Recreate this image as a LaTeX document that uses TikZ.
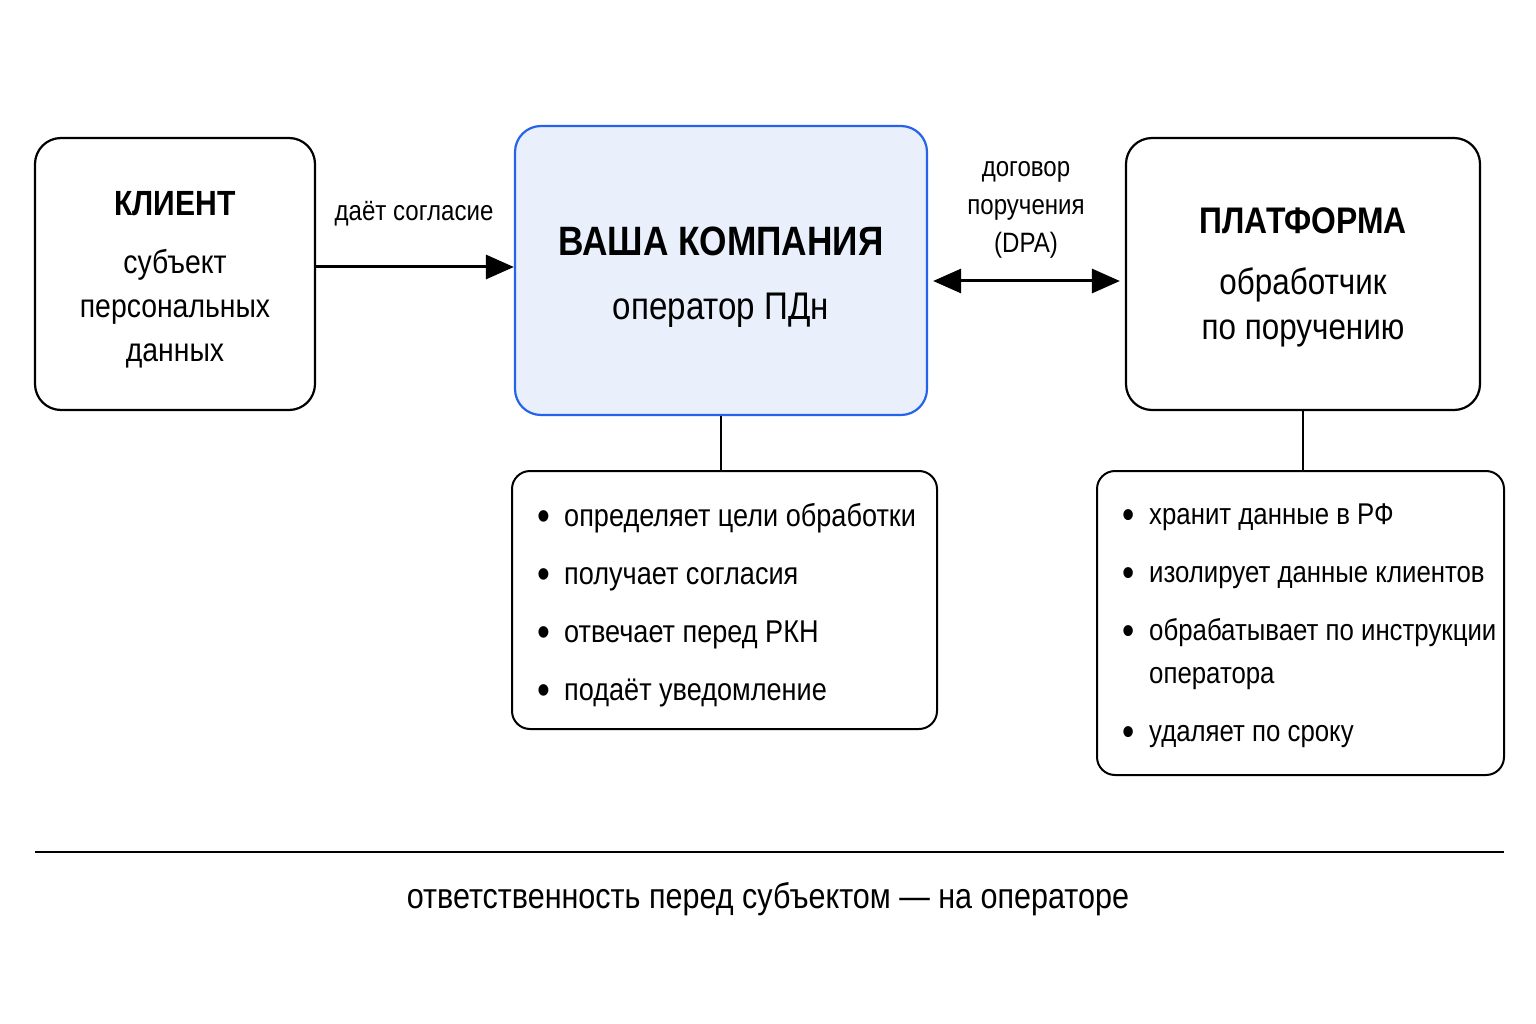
\documentclass[tikz,border=0pt]{standalone}
\usepackage{fontspec}
\setmainfont{Liberation Sans}[FakeStretch=0.86]
\usetikzlibrary{positioning,arrows.meta}

\definecolor{opfill}{HTML}{E9F0FC}
\definecolor{opline}{HTML}{2563EB}

\tikzset{
  box/.style={draw, line width=2.2pt, rounded corners=26pt, inner sep=0pt},
  boxtext/.style={align=center, inner sep=0pt},
  notes/.style={draw, line width=2pt, rounded corners=18pt, inner sep=0pt},
  notetext/.style={align=left, inner sep=0pt, anchor=north west,
    font=\fontsize{31.5}{43}\selectfont},
  arr/.style={line width=3pt, -{Triangle[length=28pt,width=24pt]}},
  darr/.style={line width=3pt, {Triangle[length=28pt,width=24pt]}-{Triangle[length=28pt,width=24pt]}},
  lbl/.style={align=center, inner sep=0pt, font=\fontsize{28}{38}\selectfont},
}
\newcommand{\itm}{\makebox[27pt][l]{\raisebox{-0.12em}{\scalebox{1.35}{\textbullet}}}}
\newcommand{\ttl}[2]{{\fontsize{#1}{44}\selectfont\bfseries #2}}

\begin{document}
\begin{tikzpicture}[x=1pt,y=-1pt]
  \useasboundingbox (0,0) rectangle (1536,1024);
  % three parties
  \node[box, minimum width=280pt, minimum height=272pt] (client) at (175,274) {};
  \node[boxtext, font=\fontsize{33}{44}\selectfont] (clienttxt) at ([yshift=-6pt]client.center)
    {\ttl{35}{КЛИЕНТ}\\[14pt]субъект\\персональных\\данных};
  \node[box, fill=opfill, draw=opline, minimum width=412pt, minimum height=289pt] (op) at (721,270.5) {};
  \node[boxtext, font=\fontsize{38.5}{46}\selectfont] (optxt) at ([yshift=-7pt]op.center)
    {\ttl{41}{ВАША КОМПАНИЯ}\\[18pt]оператор ПДн};
  \node[box, minimum width=354pt, minimum height=272pt] (plat) at (1303,274) {};
  \node[boxtext, font=\fontsize{36.5}{45}\selectfont] (plattxt) at ([yshift=-3pt]plat.center)
    {\ttl{37}{ПЛАТФОРМА}\\[16pt]обработчик\\по поручению};

  % arrows between them
  \draw[arr] (client.east |- 0,267) -- (op.west |- 0,267);
  \node[lbl] (consent) at (414,214) {даёт согласие};
  \draw[darr, shorten <=5pt, shorten >=5pt] (op.east |- 0,281) -- (plat.west |- 0,281);
  \node[lbl] (dpa) at (1026,210) {договор\\поручения\\(DPA)};

  % duties
  \node[notes, minimum width=425pt, minimum height=258pt] (opnotes) at (724.5,600) {};
  \node[notetext] (oplist) at ([xshift=26pt,yshift=-33pt]opnotes.north west)
    {\itm определяет цели обработки\\[15pt]
     \itm получает согласия\\[15pt]
     \itm отвечает перед РКН\\[15pt]
     \itm подаёт уведомление};
  \node[notes, minimum width=407pt, minimum height=304pt] (platnotes) at (1300.5,623) {};
  \node[notetext, font=\fontsize{30}{43}\selectfont] (platlist)
      at ([xshift=26pt,yshift=-34pt]platnotes.north west)
    {\itm хранит данные в РФ\\[15pt]
     \itm изолирует данные клиентов\\[15pt]
     \itm обрабатывает по инструкции\\
     \hspace*{27pt}оператора\\[15pt]
     \itm удаляет по сроку};
  \draw[line width=2pt] (op.south) -- (op.south |- opnotes.north);
  \draw[line width=2pt] (plat.south) -- (plat.south |- platnotes.north);

  % footer
  \coordinate (ruleL) at (35,852);
  \coordinate (ruleR) at (1504,852);
  \draw[line width=2pt] (ruleL) -- (ruleR);
  \node[lbl, font=\fontsize{35.5}{40}\selectfont] (resp) at (768,899)
    {ответственность перед субъектом — на операторе};
\end{tikzpicture}
\end{document}
